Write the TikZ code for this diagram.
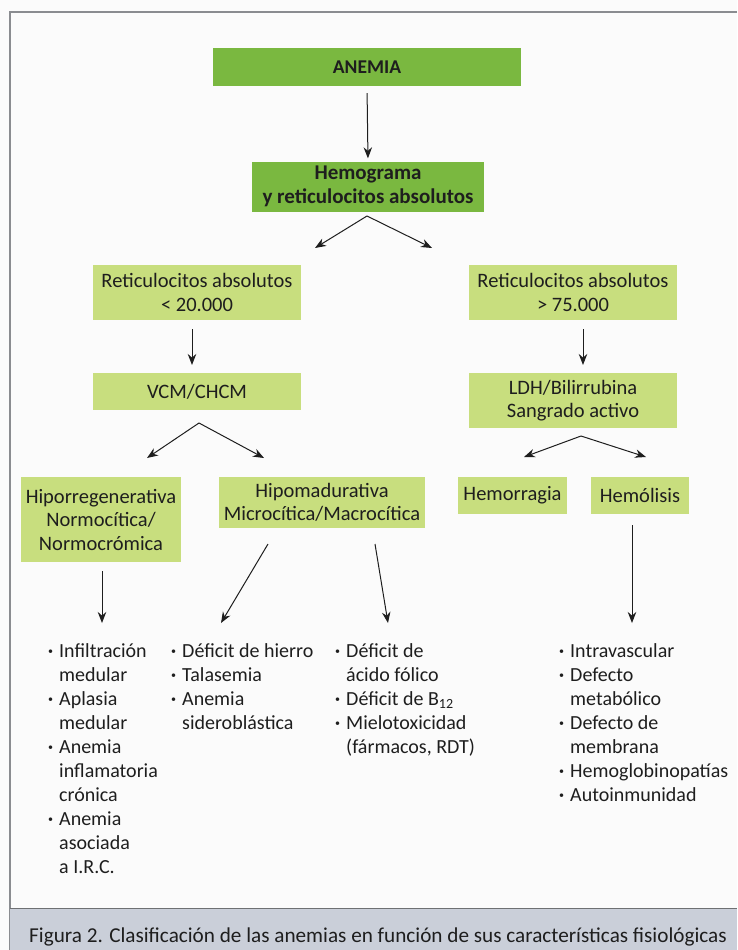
\documentclass[tikz,border=0pt]{standalone}
\usepackage{fontspec}
\setmainfont{Carlito}
\usetikzlibrary{arrows.meta}
\definecolor{darkgreen}{HTML}{7AB840}
\definecolor{lightgreen}{HTML}{C8DE7E}
\definecolor{capbar}{HTML}{CACFD9}
\definecolor{ink}{HTML}{1E1E1E}
\definecolor{framegray}{HTML}{8A8C90}
\definecolor{paper}{HTML}{FBFBFB}
\newcommand\bul{\llap{\raisebox{0.28ex}{\fontsize{10}{10}\selectfont\textbullet}\hspace{6pt}}}
\newenvironment{itemcol}{\begin{tabular}[t]{@{}l@{}}}{\end{tabular}}
\begin{document}
\begin{tikzpicture}[x=1pt,y=-1pt,
  box/.style={fill=lightgreen, text=ink, align=center, inner sep=0pt,
    font=\fontsize{20.5}{23.5}\selectfont},
  topbox/.style={box, fill=darkgreen, font=\fontsize{21}{23.5}\selectfont\bfseries},
  arr/.style={-{Stealth[length=11pt,width=8.5pt]}, line width=1pt, draw=ink},
  lst/.style={anchor=base west, inner sep=0pt, text=ink,
    font=\fontsize{20}{24}\selectfont}
]
% page and frame
\fill[paper] (0,0) rectangle (737,950);
\useasboundingbox (0,0) rectangle (737,950);
\draw[framegray, line width=1.2pt] (737,12) -- (10,12) -- (10,950);
\fill[capbar] (10,908) rectangle (737,950);
\draw[framegray!80!black, line width=1pt] (10,908) -- (737,908);
\node[anchor=base west, inner sep=0pt, text=ink, font=\fontsize{21.2}{24}\selectfont] (cap) at (29,942)
  {Figura 2. Clasificación de las anemias en función de sus características fisiológicas};

% boxes
\node[topbox, minimum width=308, minimum height=38, font=\fontsize{19.5}{22}\selectfont\bfseries] (anemia) at (367,67) {ANEMIA};
\node[topbox, minimum width=232, minimum height=50] (hemo) at (368,186.5) {Hemograma\\y reticulocitos absolutos};
\node[box, minimum width=208, minimum height=55] (retL) at (197,292.5) {Reticulocitos absolutos\\< 20.000};
\node[box, minimum width=208, minimum height=55] (retR) at (573,292.5) {Reticulocitos absolutos\\> 75.000};
\node[box, minimum width=208, minimum height=37] (vcm) at (197,391.5) {VCM/CHCM};
\node[box, minimum width=208, minimum height=55] (ldh) at (573,400.5) {LDH/Bilirrubina\\Sangrado activo};
\node[box, minimum width=160, minimum height=85] (hipo) at (101,519.5) {Hiporregenerativa\\Normocítica/\\Normocrómica};
\node[box, minimum width=206, minimum height=51] (hipom) at (322,502.5) {Hipomadurativa\\Microcítica/Macrocítica};
\node[box, minimum width=109, minimum height=37] (hemorr) at (512.5,495.5) {Hemorragia};
\node[box, minimum width=98, minimum height=37] (hemol) at (640,495.5) {Hemólisis};

% connector end points
\coordinate (hA) at (367,216);
\coordinate (hL) at (315,248);
\coordinate (hR) at (432,248);
\coordinate (vA) at (199,423);
\coordinate (vL) at (147,458);
\coordinate (vR) at (264,458);
\coordinate (lA) at (581,436);
\coordinate (lL) at (524,457);
\coordinate (lR) at (646,457);
\coordinate (c1s) at (102,571);
\coordinate (c1e) at (102,623);
\coordinate (c2s) at (268,544);
\coordinate (c2e) at (221,623);
\coordinate (c3s) at (375,544);
\coordinate (c3e) at (388,623);
\coordinate (c4s) at (632,525);
\coordinate (c4e) at (632,623);
\coordinate (rLs) at (192,329);
\coordinate (rLe) at (192,365);
\coordinate (rRs) at (583,329);
\coordinate (rRe) at (583,365);

% connectors
\draw[arr, shorten <=7pt, shorten >=3pt] (anemia.south) -- (hemo.north);
\draw[arr] (hA) -- (hL);
\draw[arr] (hA) -- (hR);
\draw[arr] (rLs) -- (rLe);
\draw[arr] (rRs) -- (rRe);
\draw[arr] (vA) -- (vL);
\draw[arr] (vA) -- (vR);
\draw[arr] (lA) -- (lL);
\draw[arr] (lA) -- (lR);
\draw[arr] (c1s) -- (c1e);
\draw[arr] (c2s) -- (c2e);
\draw[arr] (c3s) -- (c3e);
\draw[arr] (c4s) -- (c4e);

% lists
\node[lst] (l1) at (59,657) {\begin{itemcol}\bul Infiltración\\medular\\\bul Aplasia\\medular\\\bul Anemia\\inflamatoria\\crónica\\\bul Anemia\\asociada\\a I.R.C.\end{itemcol}};
\node[lst] (l2) at (182,657) {\begin{itemcol}\bul Déficit de hierro\\\bul Talasemia\\\bul Anemia\\sideroblástica\end{itemcol}};
\node[lst] (l3) at (346,657) {\begin{itemcol}\bul Déficit de\\ácido fólico\\\bul Déficit de B\textsubscript{12}\\\bul Mielotoxicidad\\(fármacos, RDT)\end{itemcol}};
\node[lst] (l4) at (570,657) {\begin{itemcol}\bul Intravascular\\\bul Defecto\\metabólico\\\bul Defecto de\\membrana\\\bul Hemoglobinopatías\\\bul Autoinmunidad\end{itemcol}};
\end{tikzpicture}
\end{document}
